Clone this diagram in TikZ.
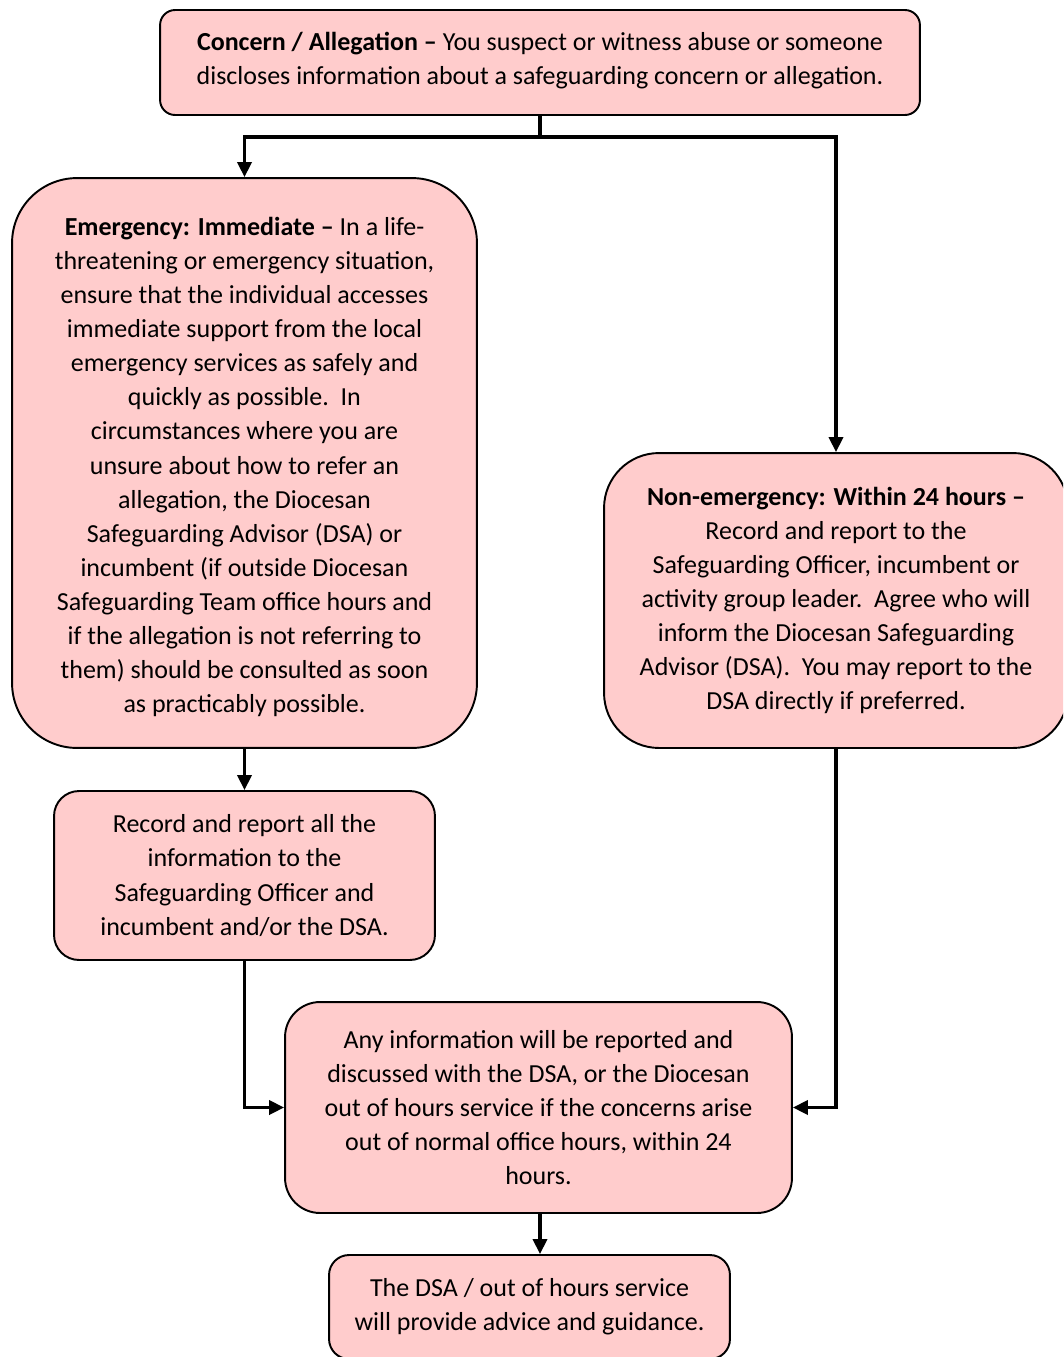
\documentclass[tikz,border=0pt]{standalone}
\usepackage{fontspec}
\setmainfont{Carlito}
\usetikzlibrary{arrows.meta}
\definecolor{boxfill}{HTML}{FFCCCC}
\tikzset{
  box/.style={draw=black, line width=1.1pt, fill=boxfill, align=center, inner sep=0pt,
    font=\fontsize{14.8}{19.4}\selectfont},
  boxtext/.style={align=center, inner sep=0pt, font=\fontsize{14.8}{19.4}\selectfont},
  conn/.style={line width=1.9pt, -{Triangle[length=8.5pt,width=8pt]}},
  plainline/.style={line width=1.9pt}
}
\begin{document}
\begin{tikzpicture}[x=0.02cm,y=-0.02cm]
\useasboundingbox (0,0) rectangle (1063,1357);
\clip (0,0) rectangle (1063,1357);
\node[box, minimum width=15.2cm, minimum height=2.1cm, rounded corners=0.3cm] (top) at (540,62.5) {};
\node[boxtext] (toptext) at (540,60.5)
  {\textbf{Concern / Allegation –} You suspect or witness abuse or someone\\
   discloses information about a safeguarding concern or allegation.};
\node[box, minimum width=9.3cm, minimum height=11.4cm, rounded corners=1.3cm] (emer) at (244.5,463) {};
\node[boxtext] (emertext) at (244.5,467)
  {\textbf{Emergency: Immediate –} In a life-\\
   threatening or emergency situation,\\
   ensure that the individual accesses\\
   immediate support from the local\\
   emergency services as safely and\\
   quickly as possible.\ \ In\\
   circumstances where you are\\
   unsure about how to refer an\\
   allegation, the Diocesan\\
   Safeguarding Advisor (DSA) or\\
   incumbent (if outside Diocesan\\
   Safeguarding Team office hours and\\
   if the allegation is not referring to\\
   them) should be consulted as soon\\
   as practicably possible.};
\node[box, minimum width=9.28cm, minimum height=5.9cm, rounded corners=1.1cm] (non) at (836,600.5)
  {\textbf{Non-emergency: Within 24 hours –}\\
   Record and report to the\\
   Safeguarding Officer, incumbent or\\
   activity group leader.\ \ Agree who will\\
   inform the Diocesan Safeguarding\\
   Advisor (DSA).\ \ You may report to the\\
   DSA directly if preferred.};
\node[box, minimum width=7.62cm, minimum height=3.38cm, rounded corners=0.5cm] (rec) at (244.5,875.5)
  {Record and report all the\\
   information to the\\
   Safeguarding Officer and\\
   incumbent and/or the DSA.};
\node[box, minimum width=10.14cm, minimum height=4.22cm, rounded corners=0.7cm] (any) at (538.5,1107.5)
  {Any information will be reported and\\
   discussed with the DSA, or the Diocesan\\
   out of hours service if the concerns arise\\
   out of normal office hours, within 24\\
   hours.};
\node[box, minimum width=8.02cm, minimum height=2.08cm, rounded corners=0.4cm] (dsa) at (529.5,1307)
  {The DSA / out of hours service\\
   will provide advice and guidance.};
\coordinate (j) at (540,137);
\draw[plainline] (top.south) -- (j);
\draw[conn] (j) -| (emer.north);
\draw[conn] (j) -| (non.north);
\draw[conn] (emer.south) -- (rec.north);
\draw[conn] (rec.south) |- (any.west);
\draw[conn] (non.south) |- (any.east);
\draw[conn] (top.south |- any.south) -- (top.south |- dsa.north);
\end{tikzpicture}
\end{document}
